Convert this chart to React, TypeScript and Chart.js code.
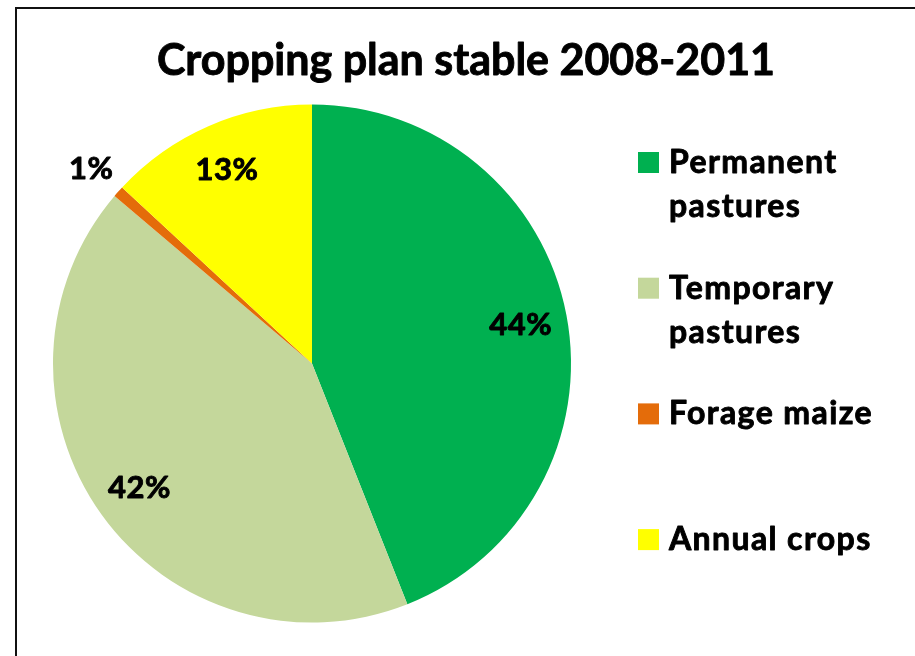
import React, { useEffect, useRef } from "react";
import { Chart, registerables } from "chart.js";

Chart.register(...registerables);

const chartTitle = "Cropping plan stable 2008-2011";
const categories = ["Permanent pastures", "Temporary pastures", "Forage maize", "Annual crops"];
const shares = [44.0, 42.2, 0.7, 13.1];
const sliceColors = ["#00B050", "#C4D79B", "#E46C0A", "#FFFF00"];

const FONT = "Lato, 'Open Sans', sans-serif";

function heavyText(ctx: CanvasRenderingContext2D, s: string, x: number, y: number) {
  ctx.fillText(s, x, y);
  ctx.strokeText(s, x, y);
}

const overlayPlugin = {
  id: "overlay",
  afterDraw(chart: any) {
    const ctx = chart.ctx as any;
    ctx.save();
    ctx.fillStyle = "#000";
    ctx.strokeStyle = "#000";
    ctx.lineWidth = 0.9;
    ctx.lineJoin = "round";
    // Title
    ctx.font = `bold 43px ${FONT}`;
    ctx.textAlign = "center";
    ctx.textBaseline = "alphabetic";
    ctx.letterSpacing = "0px";
    heavyText(ctx, chartTitle, 466, 75);

    // Percentage labels
    const meta = chart.getDatasetMeta(0);
    const data = chart.data.datasets[0].data as number[];
    const total = data.reduce((a, b) => a + b, 0);
    ctx.font = `bold 31px ${FONT}`;
    ctx.letterSpacing = "0.5px";
    meta.data.forEach((arc: any, i: number) => {
      const p = arc.getProps(["x", "y", "startAngle", "endAngle", "outerRadius"], true);
      const pct = (data[i] / total) * 100;
      const mid = (p.startAngle + p.endAngle) / 2;
      const f = pct < 3 ? 1.14 : 0.82;
      const x = p.x + Math.cos(mid) * p.outerRadius * f;
      const y = p.y + Math.sin(mid) * p.outerRadius * f;
      heavyText(ctx, Math.round(pct) + "%", x, y + 11);
    });

    // Legend
    const labels = chart.data.labels as string[];
    const colors = chart.data.datasets[0].backgroundColor as string[];
    ctx.font = `bold 32px ${FONT}`;
    ctx.letterSpacing = "1.4px";
    ctx.textAlign = "left";
    const boxX = 638, box = 21, textX = 669, maxW = 240, lineH = 44;
    labels.forEach((lab, i) => {
      const top = 152 + i * 125.7;
      ctx.fillStyle = colors[i];
      ctx.fillRect(boxX, top, box, box);
      const words = lab.split(" ");
      const lines: string[] = [];
      let cur = "";
      words.forEach((w) => {
        const t = cur ? cur + " " + w : w;
        if (ctx.measureText(t).width > maxW && cur) {
          lines.push(cur);
          cur = w;
        } else cur = t;
      });
      if (cur) lines.push(cur);
      ctx.fillStyle = "#000";
      lines.forEach((ln, j) => heavyText(ctx, ln, textX, top + box + j * lineH));
    });
    ctx.restore();
  },
};

export default function App() {
  const ref = useRef<HTMLCanvasElement>(null);
  useEffect(() => {
    if (!ref.current) return;
    const chart = new Chart(ref.current, {
      type: "pie",
      data: {
        labels: categories,
        datasets: [
          {
            data: shares,
            backgroundColor: sliceColors,
            borderWidth: 0,
          },
        ],
      },
      options: {
        animation: false,
        responsive: false,
        devicePixelRatio: 1,
        layout: { padding: { left: 53, right: 344, top: 104.5, bottom: 33.5 } },
        plugins: {
          legend: { display: false },
          title: { display: false },
          tooltip: { enabled: false },
        },
      },
      plugins: [overlayPlugin],
    });
    return () => chart.destroy();
  }, []);

  return (
    <div
      style={{
        position: "fixed",
        left: 0,
        top: 0,
        width: 915,
        height: 656,
        overflow: "hidden",
        background: "#fff",
      }}
    >
      <div
        style={{
          position: "absolute",
          left: 15,
          top: 7,
          width: 1000,
          height: 1000,
          border: "2px solid #111",
        }}
      />
      <canvas
        ref={ref}
        width={915}
        height={656}
        style={{ position: "absolute", left: 0, top: 0, width: 915, height: 656 }}
      />
    </div>
  );
}
